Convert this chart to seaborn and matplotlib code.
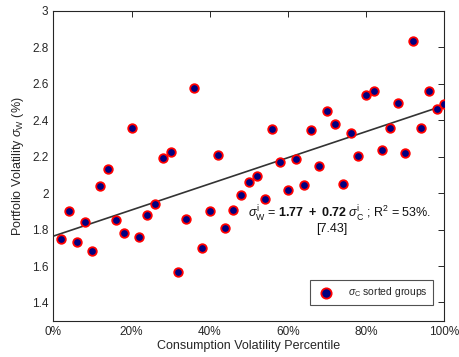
import matplotlib
matplotlib.use("Agg")
import matplotlib.pyplot as plt
import seaborn as sns
import numpy as np
import pandas as pd

# percentile groups (sorted by consumption volatility)
percentile = [0.02 * k for k in range(1, 51)]
portfolio_vol = [
    1.75, 1.90, 1.73, 1.84, 1.68, 2.04, 2.135, 1.85, 1.78, 2.355,
    1.76, 1.88, 1.94, 2.195, 2.225, 1.57, 1.86, 2.58, 1.70, 1.90,
    2.21, 1.81, 1.91, 1.99, 2.06, 2.095, 1.97, 2.35, 2.17, 2.02,
    2.19, 2.045, 2.345, 2.15, 2.45, 2.38, 2.05, 2.33, 2.205, 2.54,
    2.56, 2.235, 2.36, 2.495, 2.22, 2.835, 2.36, 2.56, 2.46, 2.49,
]
xticks = [0, 0.2, 0.4, 0.6, 0.8, 1.0]
xtick_labels = ["0%", "20%", "40%", "60%", "80%", "100%"]
yticks = [1.4, 1.6, 1.8, 2.0, 2.2, 2.4, 2.6, 2.8, 3.0]
ytick_labels = ["1.4", "1.6", "1.8", "2", "2.2", "2.4", "2.6", "2.8", "3"]

df = pd.DataFrame({"pct": percentile, "vol": portfolio_vol})

sns.set_style("white")
plt.rcParams["font.family"] = ["Liberation Sans", "DejaVu Sans"]
plt.rcParams["mathtext.fontset"] = "custom"
plt.rcParams["mathtext.rm"] = "Liberation Sans"
plt.rcParams["mathtext.bf"] = "Liberation Sans:bold"
plt.rcParams["mathtext.it"] = "Liberation Sans:italic"

fig = plt.figure(figsize=(4.6, 3.57), dpi=100)
ax = fig.add_axes([0.1159, 0.1017, 0.8504, 0.8675])
ax.set_xlim(0, 1)
ax.set_ylim(1.3, 3)

sns.regplot(data=df, x="pct", y="vol", scatter=False, ci=None, truncate=False,
            line_kws={"color": "#333333", "lw": 1.2}, ax=ax)
sns.scatterplot(data=df, x="pct", y="vol", color="#000080", edgecolor="red",
                linewidth=1.3, s=38, label=r"$\sigma_{\mathrm{C}}$ sorted groups",
                zorder=3, ax=ax)

ax.set_xlim(0, 1)
ax.set_ylim(1.3, 3)
ax.set_xticks(xticks)
ax.set_xticklabels(xtick_labels)
ax.set_yticks(yticks)
ax.set_yticklabels(ytick_labels)

grey = "#262626"
for sp in ax.spines.values():
    sp.set_visible(True)
    sp.set_color(grey)
    sp.set_linewidth(0.8)
ax.tick_params(direction="in", top=True, right=True, length=4, width=0.7,
               color=grey, labelsize=8.5, labelcolor=grey)

ax.set_xlabel("Consumption Volatility Percentile", fontsize=9, color=grey, labelpad=2)
ax.set_ylabel(r"Portfolio Volatility $\sigma_{\mathrm{W}}$ (%)", fontsize=9,
              color=grey, labelpad=4)

ax.text(0.733, 1.888,
        r"$\sigma^{\mathrm{i}}_{\mathrm{W}}$ = $\mathbf{1.77\ +\ 0.72}$ "
        r"$\sigma^{\mathrm{i}}_{\mathrm{C}}$ ; R$^2$ = 53%.",
        ha="center", va="center", fontsize=9, color="#111111")
ax.text(0.713, 1.806, "[7.43]", ha="center", va="center", fontsize=9, color="#111111")

leg = ax.legend(loc="lower right", fontsize=7.5, frameon=True, fancybox=False,
                borderpad=0.5, handletextpad=1.2, markerscale=1.2,
                bbox_to_anchor=(0.985, 0.035))
leg.get_frame().set_edgecolor(grey)
leg.get_frame().set_linewidth(0.8)

fig.savefig("out.png", dpi=100)
